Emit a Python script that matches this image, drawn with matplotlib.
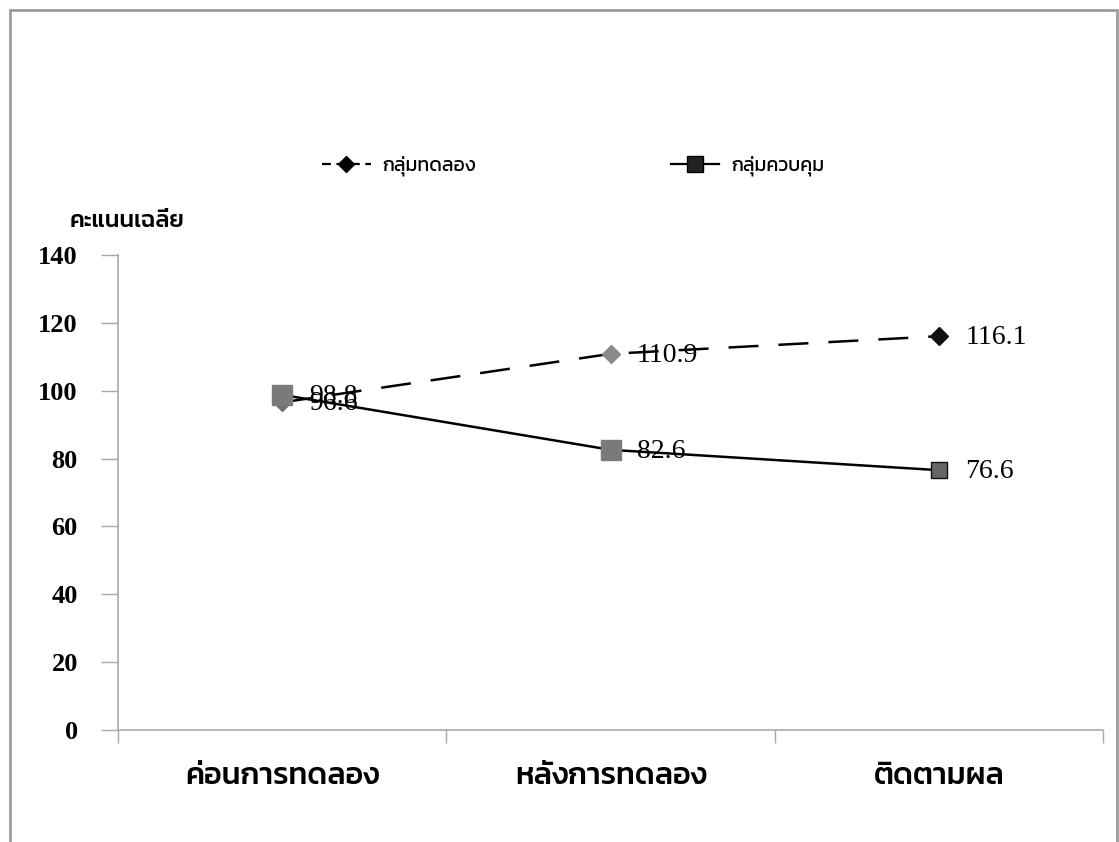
import matplotlib
matplotlib.use("Agg")
import matplotlib.pyplot as plt
from matplotlib.lines import Line2D
from matplotlib.patches import Rectangle

# ข้อมูลคะแนนเฉลี่ย
phases = ["ค่อนการทดลอง", "หลังการทดลอง", "ติดตามผล"]
experimental = [96.6, 110.9, 116.1]
control = [98.8, 82.6, 76.6]
legend_labels = ["กลุ่มทดลอง", "กลุ่มควบคุม"]
y_ticks = [0, 20, 40, 60, 80, 100, 120, 140]

num_font = ["Liberation Serif", "Kanit"]
thai_font = ["Kanit", "Liberation Serif"]

fig = plt.figure(figsize=(11.19, 8.42), dpi=100)
ax = fig.add_axes([0.1055, 0.133, 0.8805, 0.564])

x = list(range(len(phases)))

# เส้นกลุ่มทดลอง (เส้นประ + ข้าวหลามตัด)
ax.plot(x, experimental, color="black", lw=1.8, ls=(0, (12, 8)), zorder=2)
diamond_colors = ["#707070", "#8a8a8a", "#111111"]
for xi, yi, c in zip(x, experimental, diamond_colors):
    ax.plot(xi, yi, marker="D", ms=9.5, mfc=c, mec=c, zorder=3)

# เส้นกลุ่มควบคุม (เส้นทึบ + สี่เหลี่ยม)
ax.plot(x, control, color="black", lw=1.8, zorder=2)
square_colors = ["#7a7a7a", "#7a7a7a", "#666666"]
square_edges = ["#7a7a7a", "#7a7a7a", "#111111"]
square_sizes = [14, 14, 11]
for xi, yi, c, e, s in zip(x, control, square_colors, square_edges, square_sizes):
    ax.plot(xi, yi, marker="s", ms=s, mfc=c, mec=e, zorder=4)

# ป้ายค่า
for xi, yi in zip(x, experimental):
    ax.annotate(f"{yi:.1f}", (xi, yi), xytext=(19, -1), textcoords="offset points",
                va="center", ha="left", fontsize=20, family=num_font, zorder=5)
for xi, yi in zip(x, control):
    ax.annotate(f"{yi:.1f}", (xi, yi), xytext=(19, -1), textcoords="offset points",
                va="center", ha="left", fontsize=20, family=num_font, zorder=5)

ax.set_xlim(-0.5, 2.5)
ax.set_ylim(0, 140)
ax.set_yticks(y_ticks)
ax.set_yticklabels([str(t) for t in y_ticks], fontsize=19, fontweight="bold",
                   family=num_font)
ax.set_xticks(x)
ax.set_xticklabels(phases, fontsize=22, fontweight="medium", family=thai_font)
ax.set_xticks([-0.5, 0.5, 1.5, 2.5], minor=True)
ax.tick_params(axis="x", which="major", length=0, pad=24)
ax.tick_params(axis="x", which="minor", length=9, color="#a8a8b4", width=1)
ax.tick_params(axis="y", length=12, color="#a8a8b4", width=1, pad=17)

for side in ["top", "right"]:
    ax.spines[side].set_visible(False)
for side in ["left", "bottom"]:
    ax.spines[side].set_color("#a8a8b4")
    ax.spines[side].set_linewidth(1.2)

fig.text(0.062, 0.738, "คะแนนเฉลี่ย", fontsize=17, fontweight="medium",
         family=thai_font, va="center", ha="left")

# คำอธิบายสัญลักษณ์
handles = [
    Line2D([], [], color="black", lw=1.6, ls=(0, (4, 2.5)), marker="D", ms=8,
           mfc="black", mec="black"),
    Line2D([], [], color="black", lw=1.6, marker="s", ms=12,
           mfc="#222222", mec="black"),
]
fig.legend(handles, legend_labels, loc="center", bbox_to_anchor=(0.512, 0.803),
           ncol=2, frameon=False, prop={"family": thai_font, "size": 14},
           handlelength=2.5, columnspacing=10.0, handletextpad=0.6)

# กรอบรอบแผนภูมิ
fig.patches.append(Rectangle((10 / 1119, -0.01), 1107 / 1119, (832 + 8.42) / 842,
                             transform=fig.transFigure, fill=False,
                             ec="#9a9aa2", lw=2))

fig.savefig("out.png", dpi=100)
